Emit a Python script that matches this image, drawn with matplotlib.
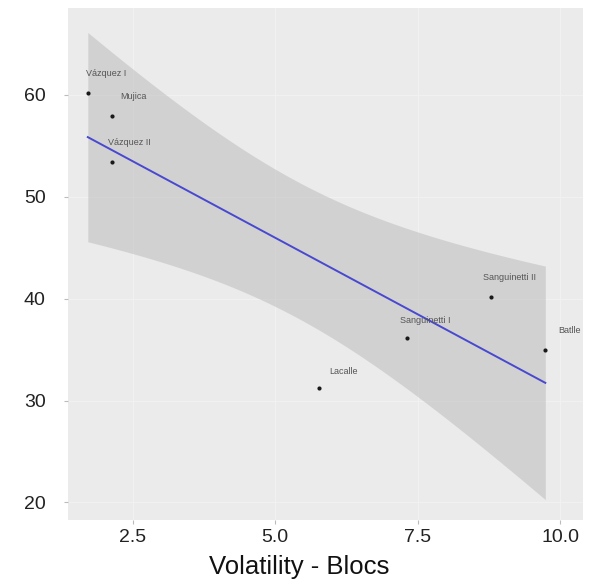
import numpy as np
import matplotlib.pyplot as plt
from matplotlib import rc

rc('font', **{'family': ['Liberation Sans', 'DejaVu Sans']})

# data
names = ['Vázquez I', 'Mujica', 'Vázquez II', 'Lacalle',
         'Sanguinetti I', 'Sanguinetti II', 'Batlle']
volatility = np.array([1.71, 2.13, 2.13, 5.77, 7.32, 8.79, 9.74])
score = np.array([60.2, 57.9, 53.4, 31.2, 36.1, 40.2, 35.0])
xticks = [2.5, 5.0, 7.5, 10.0]
yticks = [20, 30, 40, 50, 60]

# label offsets (points), roughly like ggrepel put them
offsets = [(-1, 14), (6, 14), (-3, 14), (7, 12), (-5, 13), (-6, 14), (9, 14)]

# linear fit with 95% confidence band (t, df=5)
n = len(volatility)
b, a = np.polyfit(volatility, score, 1)
resid = score - (a + b * volatility)
s = np.sqrt(np.sum(resid ** 2) / (n - 2))
mx = volatility.mean()
sxx = np.sum((volatility - mx) ** 2)
xfit = np.linspace(volatility.min(), volatility.max(), 80)
yfit = a + b * xfit
se = s * np.sqrt(1 / n + (xfit - mx) ** 2 / sxx)
tval = 2.5706

fig = plt.figure(figsize=(5.9, 5.84), dpi=100)
ax = fig.add_axes([0.115, 0.11, 0.873, 0.876])
ax.set_facecolor('#ebebeb')
for sp in ax.spines.values():
    sp.set_visible(False)
ax.grid(True, color='#f1f1f1', lw=0.9)
ax.set_axisbelow(True)

ax.fill_between(xfit, yfit - tval * se, yfit + tval * se, color='#bdbdbd',
                alpha=0.55, lw=0, zorder=2)
ax.plot(xfit, yfit, color='#4848d0', lw=1.4, zorder=3)
ax.scatter(volatility, score, s=9, color='#1a1a1a', zorder=4, lw=0)

for nm, x, y, off in zip(names, volatility, score, offsets):
    ax.annotate(nm, (x, y), xytext=off, textcoords='offset points',
                fontsize=6.5, color='#555555', va='center', ha='left', zorder=5)

ax.set_xlim(1.36, 10.4)
ax.set_ylim(18.3, 68.5)
ax.set_xticks(xticks)
ax.set_xticklabels(['%.1f' % t for t in xticks])
ax.set_yticks(yticks)
ax.tick_params(axis='both', colors='#bbbbbb', length=3, width=0.8,
               labelcolor='#222222', labelsize=14, pad=4)
ax.tick_params(axis='y', pad=13)
ax.set_xlabel('Volatility - Blocs', fontsize=18.5, color='#111111')
ax.xaxis.set_label_coords(0.449, -0.068)

fig.savefig('out.png')
